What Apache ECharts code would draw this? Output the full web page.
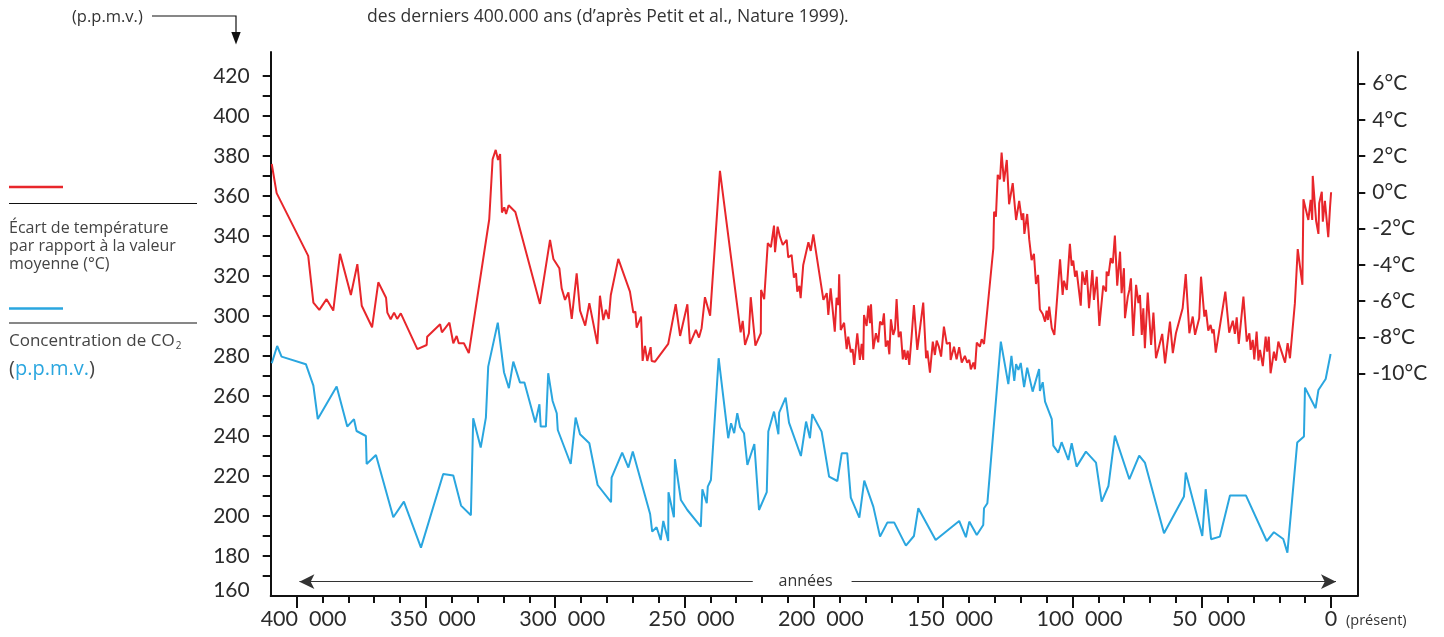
<!DOCTYPE html>
<html><head><meta charset="utf-8">
<script src="https://cdn.jsdelivr.net/npm/echarts@6/dist/echarts.min.js"></script>
<style>html,body{margin:0;padding:0;background:#fff}#c{width:1444px;height:637px}</style>
</head><body><div id="c"></div>
<script>
// Temperature deviation (°C) : [years before present, value]
const temperature = [[409600,1.57],[407700,-0.04],[395500,-3.50],[393500,-6.08],[391200,-6.48],[388400,-5.89],[385800,-6.52],[383200,-3.39],[379000,-5.66],[376500,-3.96],[374800,-6.25],[370800,-7.44],[368400,-4.96],[365400,-5.81],[364900,-6.63],[363600,-7.00],[362300,-6.63],[361100,-6.98],[359700,-6.67],[353300,-8.65],[349700,-8.42],[349500,-7.96],[344500,-7.27],[343800,-7.72],[340900,-7.19],[339400,-8.32],[338100,-7.92],[337300,-8.32],[335300,-8.32],[333400,-8.87],[325500,-1.48],[324200,1.83],[323000,2.35],[322100,1.79],[321300,2.12],[320600,-1.11],[319700,-0.82],[319000,-1.19],[318000,-0.71],[315400,-1.08],[305900,-6.15],[302000,-2.62],[300700,-3.67],[298400,-4.18],[297500,-5.29],[296200,-5.93],[294900,-5.51],[293600,-6.98],[291700,-4.46],[290400,-6.52],[288400,-7.35],[286800,-6.11],[283700,-8.36],[282700,-5.70],[281400,-7.04],[280400,-6.48],[279300,-6.98],[278500,-5.66],[275600,-3.67],[271100,-5.47],[269800,-6.63],[269000,-6.58],[268500,-7.46],[266800,-6.85],[266200,-9.30],[265300,-8.47],[264400,-9.30],[263100,-8.54],[262700,-9.30],[261400,-9.34],[256300,-8.36],[253400,-6.17],[251700,-7.92],[248900,-6.17],[247900,-8.36],[245600,-7.59],[244400,-8.01],[243400,-7.49],[242100,-5.78],[240100,-6.80],[236300,1.19],[228300,-7.72],[227500,-7.09],[226600,-8.42],[225100,-7.77],[224400,-5.78],[222600,-8.45],[220500,-7.77],[220400,-5.38],[219200,-5.89],[217800,-2.80],[216600,-3.02],[215400,-1.83],[215000,-3.30],[214000,-1.89],[213100,-2.44],[212000,-2.90],[210500,-2.62],[209900,-3.58],[208600,-3.45],[207700,-4.70],[206900,-4.46],[206400,-5.47],[205600,-5.16],[205100,-5.84],[204100,-4.00],[202100,-2.75],[201200,-3.23],[200200,-2.31],[196300,-5.93],[195000,-5.56],[194400,-6.76],[193500,-5.29],[191900,-7.68],[191200,-5.81],[190500,-6.21],[190200,-4.51],[189600,-7.59],[188300,-7.19],[187300,-8.65],[186700,-7.96],[185700,-8.82],[185000,-8.65],[184400,-9.52],[183200,-7.77],[182200,-9.24],[181500,-8.36],[180900,-9.24],[180600,-6.76],[179600,-7.37],[178900,-6.25],[178300,-7.22],[177900,-6.17],[177000,-8.65],[176000,-7.77],[175100,-8.27],[174400,-7.13],[173500,-7.31],[172900,-6.67],[172200,-8.51],[171400,-8.18],[170800,-8.93],[170200,-7.00],[169300,-7.86],[168600,-7.53],[168000,-5.89],[167200,-7.99],[166400,-7.68],[165600,-9.21],[165000,-8.69],[164400,-9.24],[163700,-8.73],[163100,-9.52],[162200,-7.96],[161300,-6.21],[160000,-8.69],[157700,-6.08],[156600,-9.15],[156100,-8.73],[155100,-9.94],[154000,-8.23],[153200,-8.97],[152500,-8.18],[151600,-8.54],[150800,-9.06],[149700,-7.41],[148600,-8.36],[147400,-8.29],[147100,-9.24],[145800,-8.51],[144800,-9.21],[143800,-8.54],[142800,-9.39],[141600,-9.02],[140700,-9.39],[139900,-9.24],[139300,-9.76],[138300,-9.39],[137700,-9.76],[137000,-8.29],[135800,-8.51],[135100,-8.10],[134200,-8.36],[130600,-3.08],[130300,-1.06],[129600,-1.34],[128900,0.97],[128000,0.73],[127400,2.20],[126500,0.60],[125400,1.79],[124500,-0.65],[123100,0.51],[121800,-1.52],[120600,-0.47],[119600,-1.52],[119000,-1.15],[118600,-2.29],[117500,-1.19],[116700,-2.62],[115800,-3.73],[114900,-3.39],[114100,-5.05],[113300,-4.55],[112600,-6.46],[111500,-6.71],[110600,-7.13],[110000,-6.52],[109500,-7.04],[109000,-6.30],[108000,-7.49],[107000,-7.86],[104800,-3.69],[103800,-5.66],[103300,-4.87],[102200,-5.38],[101000,-2.84],[100300,-4.04],[99700,-3.76],[99000,-4.65],[98400,-4.32],[96800,-6.25],[96200,-4.37],[95200,-5.10],[94500,-4.28],[93600,-6.39],[92300,-4.28],[91700,-5.93],[90600,-4.65],[89600,-7.37],[88100,-5.14],[87000,-5.47],[86800,-4.37],[86100,-4.61],[85200,-3.63],[84400,-3.91],[83600,-2.38],[82700,-5.14],[81600,-3.27],[81000,-5.56],[80100,-4.18],[79700,-6.94],[78600,-5.75],[78000,-5.38],[77400,-4.74],[76500,-7.92],[75400,-5.10],[74500,-6.11],[73900,-5.66],[73200,-7.86],[72600,-6.39],[72000,-8.60],[70900,-5.53],[69600,-8.42],[68700,-6.63],[67700,-9.15],[65300,-7.81],[64200,-9.43],[62300,-7.13],[61200,-8.87],[60000,-7.77],[57400,-6.39],[56200,-4.51],[54800,-7.77],[53500,-6.85],[52600,-7.86],[51000,-6.94],[50300,-4.65],[49000,-6.85],[48400,-6.48],[47500,-7.63],[46600,-7.31],[45900,-7.77],[45400,-7.55],[44600,-8.84],[40900,-5.47],[39400,-7.74],[38000,-7.08],[37200,-7.81],[36500,-6.89],[35700,-8.36],[33900,-5.75],[32600,-8.23],[31600,-7.77],[31100,-8.69],[30300,-8.14],[29700,-9.21],[28800,-7.68],[28100,-9.28],[27500,-8.69],[26400,-9.58],[25300,-7.96],[24700,-8.79],[24100,-7.96],[23400,-9.98],[22100,-8.79],[21300,-9.28],[20400,-8.23],[17800,-9.39],[16800,-8.32],[15900,-9.15],[14000,-6.11],[12900,-3.13],[11100,-5.10],[10700,-0.38],[8800,-1.52],[7900,-0.41],[7300,-1.52],[7100,0.91],[5800,-1.56],[4900,-2.29],[4600,-0.60],[3600,0.04],[3200,-1.61],[2400,-0.47],[1100,-2.47],[400,-0.78],[0,0.01]];

// CO2 concentration (p.p.m.v.) : [years before present, value]
const co2 = [[409600,276.4],[407500,285.0],[405800,279.7],[396400,275.9],[393500,265.2],[391800,248.5],[384500,264.7],[380400,244.7],[377800,248.4],[376800,242.5],[373200,240.0],[372900,226.0],[369300,230.5],[362600,199.4],[358500,207.2],[351900,184.2],[343300,221.0],[339400,220.2],[336400,205.2],[332600,200.4],[331700,248.9],[328800,234.2],[326800,249.2],[325900,274.7],[322200,296.7],[319800,271.9],[317900,263.9],[316200,277.2],[313600,266.7],[311900,266.7],[307700,246.7],[306100,255.9],[305600,244.7],[303600,244.7],[302700,271.4],[301000,257.5],[299400,251.4],[299000,243.0],[294000,226.0],[292100,249.2],[290400,240.9],[286800,236.4],[283600,215.5],[278400,206.9],[278200,219.2],[274100,231.7],[271700,224.2],[270000,232.2],[263300,201.0],[262500,192.2],[260800,194.4],[259200,188.0],[258200,197.5],[256300,187.5],[256200,211.9],[254100,199.4],[253700,228.4],[251400,208.0],[248900,203.0],[243700,194.7],[243100,213.4],[241400,206.4],[241000,214.7],[239800,218.0],[236800,278.9],[233100,238.9],[232000,246.4],[230800,241.4],[229600,251.4],[228500,244.4],[227000,241.4],[225700,225.5],[223000,236.0],[221200,203.0],[218200,211.9],[217600,242.2],[215400,252.2],[213700,240.9],[213400,251.7],[210900,259.2],[209600,246.7],[205000,230.0],[203000,247.2],[201500,238.9],[200600,250.9],[197000,242.2],[194100,219.7],[190900,217.5],[189200,231.4],[187100,231.4],[185700,209.2],[182400,199.2],[180500,217.7],[177000,204.7],[174400,189.7],[171600,196.7],[168900,196.7],[164400,185.2],[161300,190.0],[159600,203.9],[152900,188.0],[143800,197.5],[141200,189.4],[139900,197.2],[137000,190.5],[134500,195.5],[134200,203.9],[132900,206.4],[127700,287.2],[124800,265.9],[123600,280.1],[122500,267.5],[121800,275.9],[120900,273.0],[120000,276.5],[118700,264.4],[117500,274.2],[115400,262.2],[112900,273.5],[112600,262.5],[111500,266.9],[110600,257.2],[108000,248.4],[107400,235.2],[105500,231.7],[104200,236.9],[101600,228.0],[100300,236.4],[98400,224.7],[94800,232.2],[90900,226.7],[88700,207.2],[86100,215.0],[83600,240.2],[78000,218.4],[74200,230.2],[72000,226.7],[64600,191.4],[56900,209.7],[56200,221.7],[49800,190.0],[48500,213.4],[46400,188.4],[43000,189.7],[39100,210.2],[32900,210.2],[24900,187.5],[22100,191.9],[18500,188.5],[16900,181.7],[13100,236.7],[10500,239.7],[10100,264.2],[6000,253.9],[4900,263.0],[2100,268.5],[200,281.0]];

const co2TickLabels = [160,180,200,220,240,260,280,300,320,340,360,380,400,420];
const co2Ticks = [170,180,190,200,210,220,230,240,250,260,270,280,290,300,310,320,330,340,350,360,370,380,390,400,410,420];
const tempTickLabels = [-10,-8,-6,-4,-2,0,2,4,6];
const yearTickLabels = [0,50000,100000,150000,200000,250000,300000,350000,400000];
const yearMinorTicks = [10000,20000,30000,40000,60000,70000,80000,90000,110000,120000,130000,140000,160000,170000,180000,190000,210000,220000,230000,240000,260000,270000,280000,290000,310000,320000,330000,340000,360000,370000,380000,390000];

const FONT = 'Lato, "Noto Sans", sans-serif';
const TFONT = '"Open Sans", Lato, sans-serif';
const RED = '#e8262b';
const BLUE = '#2aa6df';
const INK = '#111';
const TXT = '#2b2b2b';
const XMIN = -10130, XMAX = 410000;
const ARROW_Y = 167.15;

const chart = echarts.init(document.getElementById('c'), null, {renderer: 'canvas'});
chart.setOption({
  animation: false,
  backgroundColor: '#fff',
  grid: {left: 270.7, right: 86.7, top: 52, bottom: 41, containLabel: false},
  xAxis: [{
    type: 'value', min: XMIN, max: XMAX, inverse: true, position: 'bottom',
    axisLine: {show: true, onZero: false, lineStyle: {color: INK, width: 2}},
    axisTick: {show: true, customValues: yearTickLabels, length: 12, lineStyle: {color: INK, width: 2}},
    axisLabel: {customValues: yearTickLabels, margin: 12, fontSize: 21.5, fontFamily: FONT, color: TXT,
      formatter: v => v === 0 ? '0' : '{k|' + (v / 1000) + '  000}',
      rich: {k: {fontSize: 21.5, fontFamily: FONT, color: TXT, padding: [0, 0, 0, 14]}}},
    splitLine: {show: false}
  }, {
    type: 'value', min: XMIN, max: XMAX, inverse: true, position: 'bottom',
    axisLine: {show: false, onZero: false},
    axisTick: {show: true, customValues: yearMinorTicks, length: 7, lineStyle: {color: INK, width: 2}},
    axisLabel: {show: false},
    splitLine: {show: false}
  }],
  yAxis: [{
    type: 'value', min: 160, max: 432, position: 'left',
    axisLine: {show: true, onZero: false, lineStyle: {color: INK, width: 2}},
    axisTick: {show: true, customValues: co2Ticks, length: 8, lineStyle: {color: INK, width: 2}},
    axisLabel: {customValues: co2TickLabels, margin: 21, fontSize: 21, fontFamily: FONT, color: TXT,
      formatter: v => v === 160 ? '{lo|160}' : String(v),
      rich: {lo: {fontSize: 21, fontFamily: FONT, color: TXT, padding: [0, 0, 12, 0]}}},
    splitLine: {show: false}
  }, {
    type: 'value', min: -22.27, max: 7.75, position: 'right',
    axisLine: {show: true, onZero: false, lineStyle: {color: INK, width: 2}},
    axisTick: {show: true, customValues: tempTickLabels, length: 8, lineStyle: {color: INK, width: 2}},
    axisLabel: {customValues: tempTickLabels, margin: 15, fontSize: 21, fontFamily: FONT, color: TXT,
      formatter: v => v + '°C'},
    splitLine: {show: false}
  }],
  series: [{
    name: 'Écart de température', type: 'line', xAxisIndex: 0, yAxisIndex: 1,
    data: temperature, showSymbol: false, symbol: 'none',
    lineStyle: {color: RED, width: 2}, itemStyle: {color: RED}, z: 3
  }, {
    name: 'Concentration de CO2', type: 'line', xAxisIndex: 0, yAxisIndex: 0,
    data: co2, showSymbol: false, symbol: 'none',
    lineStyle: {color: BLUE, width: 2}, itemStyle: {color: BLUE}, z: 3,
    markLine: {
      silent: true, animation: false,
      symbolSize: [11, 15],
      lineStyle: {color: '#333', width: 1, type: 'solid'},
      label: {show: false},
      emphasis: {disabled: true},
      data: [
        [{coord: [398900, ARROW_Y], symbol: 'arrow'}, {coord: [223600, ARROW_Y], symbol: 'none'}],
        [{coord: [185400, ARROW_Y], symbol: 'none'}, {coord: [-1900, ARROW_Y], symbol: 'arrow'}]
      ]
    }
  }],
  graphic: [
    {type: 'text', x: 72, y: 17, style: {text: '(p.p.m.v.)', fontSize: 16.5, fontFamily: TFONT, fill: '#333', verticalAlign: 'middle'}},
    {type: 'polyline', shape: {points: [[152, 16], [236, 16], [236, 34]]}, style: {stroke: INK, lineWidth: 1.2, fill: null}},
    {type: 'polygon', shape: {points: [[231.3, 32], [240.7, 32], [236, 44.5]]}, style: {fill: INK}},
    {type: 'text', x: 367, y: 17, style: {text: 'des derniers 400.000 ans (d’après Petit et al., Nature 1999).', fontSize: 17.6, fontFamily: TFONT, fill: '#333', verticalAlign: 'middle'}},
    {type: 'line', shape: {x1: 9, y1: 187, x2: 63, y2: 187}, style: {stroke: RED, lineWidth: 2.5}},
    {type: 'line', shape: {x1: 9, y1: 203.5, x2: 197, y2: 203.5}, style: {stroke: INK, lineWidth: 1.2}},
    {type: 'text', x: 9, y: 219, style: {text: 'Écart de température\npar rapport à la valeur\nmoyenne (°C)', fontSize: 16, lineHeight: 18, fontFamily: TFONT, fill: '#444', verticalAlign: 'top'}},
    {type: 'line', shape: {x1: 9, y1: 308.5, x2: 63, y2: 308.5}, style: {stroke: BLUE, lineWidth: 2.5}},
    {type: 'line', shape: {x1: 9, y1: 323, x2: 197, y2: 323}, style: {stroke: INK, lineWidth: 1.2}},
    {type: 'text', x: 9, y: 341, style: {text: 'Concentration de CO{sub|2}', fontSize: 17, fontFamily: TFONT, fill: '#444', verticalAlign: 'middle',
      rich: {sub: {fontSize: 10, fontFamily: TFONT, fill: '#444', padding: [10, 0, 0, 1]}}}},
    {type: 'text', x: 9, y: 369, style: {text: '({b|p.p.m.v.})', fontSize: 20, fontFamily: TFONT, fill: '#444', verticalAlign: 'middle',
      rich: {b: {fontSize: 20, fontFamily: TFONT, fill: BLUE}}}},
    {type: 'text', x: 805.6, y: 581.7, style: {text: 'années', fontSize: 16, fontFamily: TFONT, fill: '#333', align: 'center', verticalAlign: 'middle'}},
    {type: 'text', x: 1346, y: 621, style: {text: '(présent)', fontSize: 14.5, fontFamily: TFONT, fill: '#333', verticalAlign: 'middle'}}
  ]
});
</script>
</body></html>
